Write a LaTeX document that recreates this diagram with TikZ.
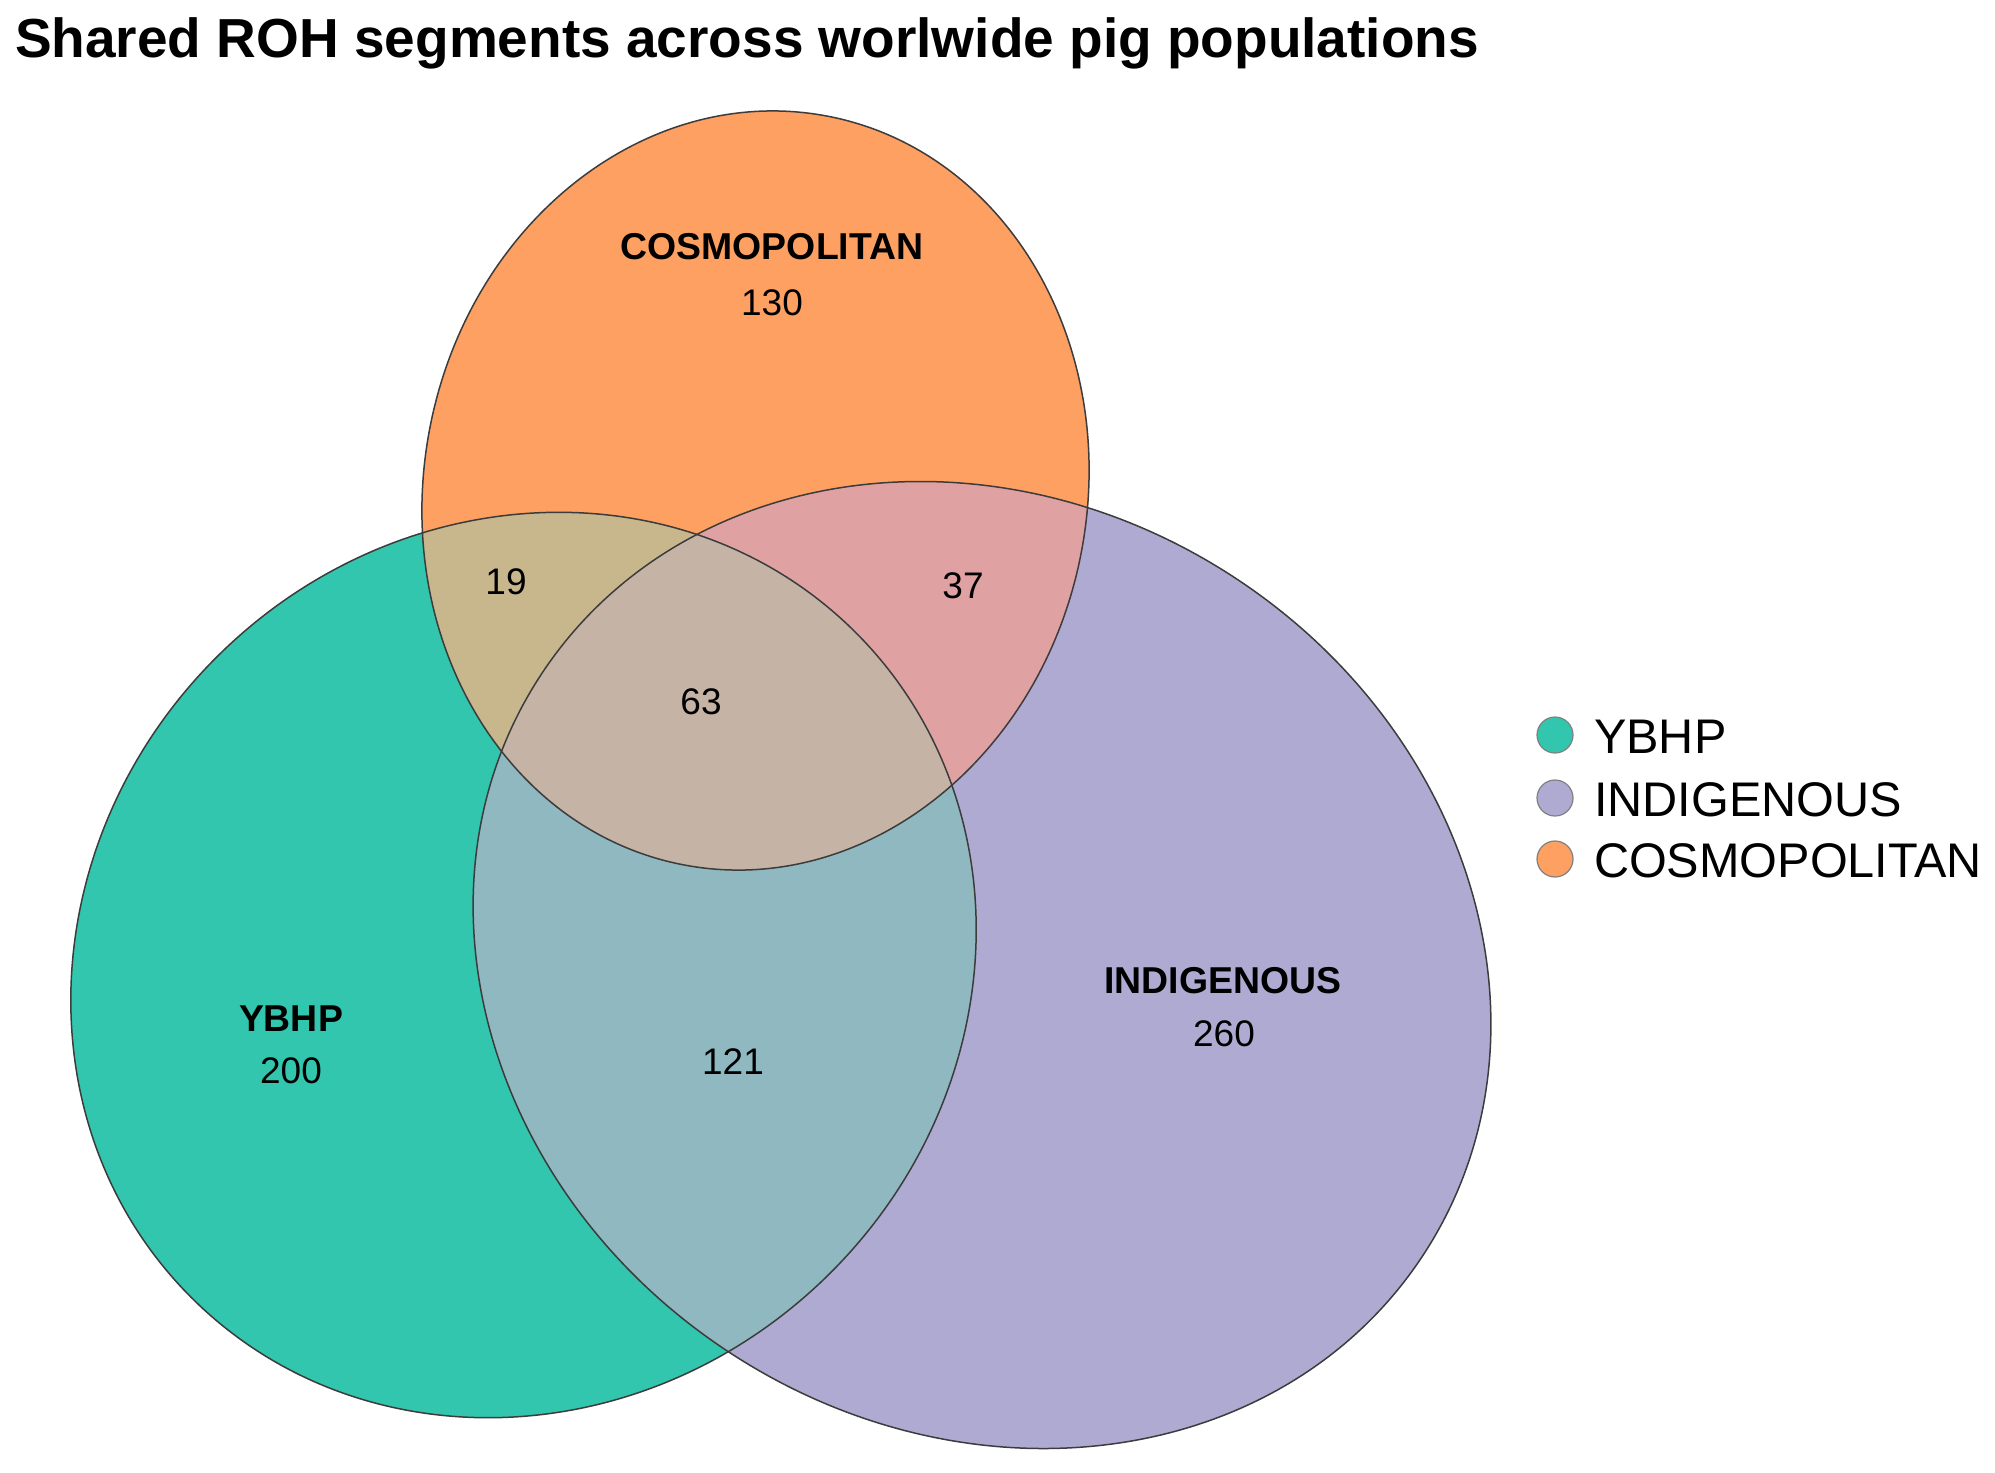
\documentclass[tikz,border=0pt]{standalone}
\usepackage{fontspec}
\setmainfont{Liberation Sans}
\definecolor{ygreen}{RGB}{50,198,174}
\definecolor{ipurple}{RGB}{175,170,210}
\definecolor{corange}{RGB}{253,160,98}
\definecolor{gpcol}{RGB}{143,184,192}
\definecolor{gocol}{RGB}{200,183,140}
\definecolor{pocol}{RGB}{224,161,163}
\definecolor{gpocol}{RGB}{197,179,166}
\definecolor{edgecol}{RGB}{60,60,60}
\begin{document}
\begin{tikzpicture}[x=0.5pt,y=-0.5pt,
  outline/.style={draw=edgecol,line width=0.75pt},
  setname/.style={anchor=base,font=\bfseries\fontsize{18.7}{22}\selectfont},
  count/.style={anchor=base,font=\fontsize{18.5}{22}\selectfont},
  legdot/.style={circle,draw=gray,line width=0.6pt,minimum size=18pt,inner sep=0pt},
  legtext/.style={anchor=base west,font=\fontsize{24.3}{29}\selectfont}]
\useasboundingbox[fill=white] (0,0) rectangle (1995,1472);
\def\GE{(523.5,965) ellipse [x radius=470, y radius=434.7, rotate=45]}
\def\PE{(982,965) ellipse [x radius=528, y radius=462.5, rotate=-33.6]}
\def\OE{(755.5,490.5) ellipse [x radius=331.6, y radius=381.2, rotate=-11]}
% base fills
\fill[ygreen] \GE;
\fill[ipurple] \PE;
\fill[corange] \OE;
% pairwise overlaps
\begin{scope}\clip \GE; \fill[gpcol] \PE; \end{scope}
\begin{scope}\clip \GE; \fill[gocol] \OE; \end{scope}
\begin{scope}\clip \PE; \fill[pocol] \OE; \end{scope}
\begin{scope}\clip \GE; \clip \PE; \fill[gpocol] \OE; \end{scope}
% outlines
\draw[outline] \GE;
\draw[outline] \PE;
\draw[outline] \OE;
% title
\node[anchor=base west,font=\bfseries\fontsize{27.5}{33}\selectfont] (title) at (8,57) {Shared ROH segments across worlwide pig populations};
% set labels and counts
\node[setname] (ncos) at (772,259) {COSMOPOLITAN};
\node[count] (c130) at (772,315) {130};
\node[count] (c19) at (506,594) {19};
\node[count] (c37) at (963,598) {37};
\node[count] (c63) at (701,714) {63};
\node[setname] (nybhp) at (291,1031) {YBHP};
\node[count] (c200) at (291,1083) {200};
\node[count] (c121) at (733,1074) {121};
\node[setname] (nind) at (1223,993) {INDIGENOUS};
\node[count] (c260) at (1224,1046) {260};
% legend
\node[legdot,fill=ygreen] (dy) at (1555,735) {};
\node[legdot,fill=ipurple] (dp) at (1555,798) {};
\node[legdot,fill=corange] (do) at (1555,859) {};
\node[legtext] (ty) at (1587,753) {YBHP};
\node[legtext] (tp) at (1587,816) {INDIGENOUS};
\node[legtext] (to) at (1587,877) {COSMOPOLITAN};
\end{tikzpicture}
\end{document}
